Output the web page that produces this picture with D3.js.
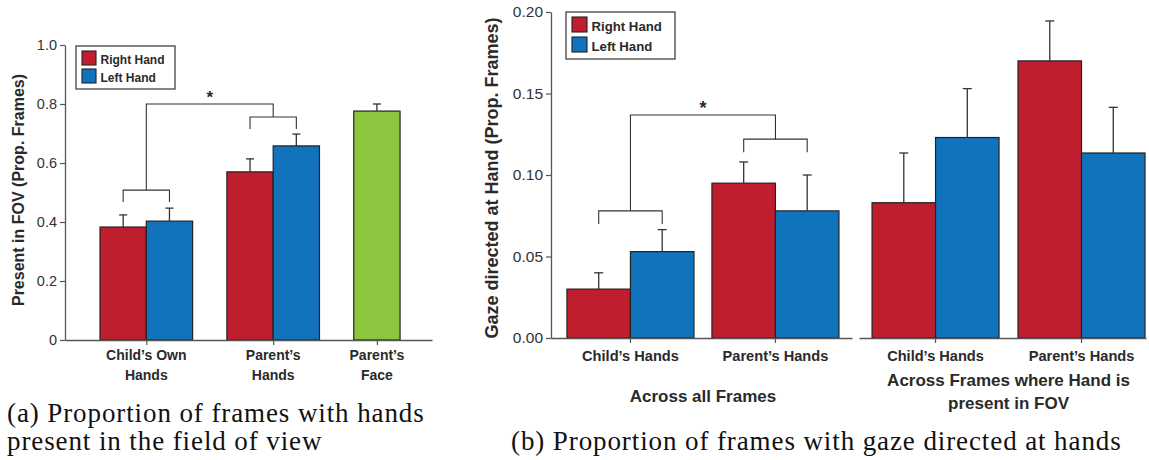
<!DOCTYPE html>
<html>
<head>
<meta charset="utf-8">
<script src="https://cdn.jsdelivr.net/npm/d3@7"></script>
<style>
  body { margin: 0; background: #fff; }
  svg { display: block; }
  text { font-family: "Liberation Sans", Arial, Helvetica, sans-serif; }
</style>
</head>
<body>
<svg id="fig" width="1149" height="460"></svg>
<script>
// ---------------- Data ----------------
const handSeries = ["Right Hand", "Left Hand"];
const seriesColors = ["#be1e2d", "#1173bb"];
const faceColor = "#8cc63f";

// (a) proportion of frames with hands / face present in the field of view
const fovCategories = [["Child’s Own", "Hands"], ["Parent’s", "Hands"], ["Parent’s", "Face"]];
const fovRight   = [0.383, 0.570];
const fovRightSE = [0.041, 0.044];
const fovLeft    = [0.403, 0.658];
const fovLeftSE  = [0.044, 0.040];
const fovFace    = [0.776];
const fovFaceSE  = [0.024];
const fovTicks      = [0, 0.2, 0.4, 0.6, 0.8, 1.0];
const fovTickLabels = ["0", "0.2", "0.4", "0.6", "0.8", "1.0"];
// significance brackets: [bracket level, leg end] for each hand pair, then the joining bracket
const fovPairBrackets = [[0.508, 0.468], [0.756, 0.715]];
const fovTopBracket = 0.80;

// (b) proportion of frames with gaze directed at hands
const gazeCategories = ["Child’s Hands", "Parent’s Hands"];
const gazePanelTitles = [["Across all Frames"], ["Across Frames where Hand is", "present in FOV"]];
const gazeAllRight     = [0.030, 0.095];
const gazeAllRightSE   = [0.010, 0.013];
const gazeAllLeft      = [0.053, 0.078];
const gazeAllLeftSE    = [0.0135, 0.022];
const gazeInFovRight   = [0.083, 0.170];
const gazeInFovRightSE = [0.0305, 0.0245];
const gazeInFovLeft    = [0.123, 0.1135];
const gazeInFovLeftSE  = [0.030, 0.028];
const gazeTicks      = [0, 0.05, 0.10, 0.15, 0.20];
const gazeTickLabels = ["0.00", "0.05", "0.10", "0.15", "0.20"];
const gazePairBrackets = [[0.078, 0.070], [0.122, 0.114]];
const gazeTopBracket = 0.1368;

const captionA = ["(a) Proportion of frames with hands", "present in the field of view"];
const captionB = "(b) Proportion of frames with gaze directed at hands";

// ---------------- Drawing helpers ----------------
const svg = d3.select("#fig");
const INK = "#2a2a2a", AXIS = "#555", BAR_STROKE = "#232323";

function styleAxis(g, fontSize) {
  g.select(".domain").attr("stroke", AXIS).attr("stroke-width", 1.3);
  g.selectAll(".tick line").attr("stroke", AXIS).attr("stroke-width", 1.2);
  g.selectAll(".tick text").attr("fill", "#333").attr("font-size", fontSize)
    .style("font-family", "'Liberation Sans', Arial, sans-serif");
}

function drawBars(g, bars, y, capW) {
  g.selectAll("rect.bar").data(bars).join("rect")
    .attr("class", "bar")
    .attr("x", d => d.x0).attr("width", d => d.x1 - d.x0)
    .attr("y", d => y(d.value)).attr("height", d => y(0) - y(d.value))
    .attr("fill", d => d.color).attr("stroke", BAR_STROKE).attr("stroke-width", 1.2);
  const eb = g.selectAll("g.err").data(bars).join("g").attr("class", "err")
    .attr("stroke", "#333").attr("stroke-width", 1.3);
  eb.append("line")
    .attr("x1", d => (d.x0 + d.x1) / 2).attr("x2", d => (d.x0 + d.x1) / 2)
    .attr("y1", d => y(d.value)).attr("y2", d => y(d.value + d.se));
  eb.append("line")
    .attr("x1", d => (d.x0 + d.x1) / 2 - capW / 2).attr("x2", d => (d.x0 + d.x1) / 2 + capW / 2)
    .attr("y1", d => y(d.value + d.se)).attr("y2", d => y(d.value + d.se));
}

// bracket from xa to xb at level, legs dropping to legEnd
function bracket(g, xa, xb, yTop, yLegA, yLegB) {
  g.append("path")
    .attr("d", `M${xa},${yLegA}V${yTop}H${xb}V${yLegB}`)
    .attr("fill", "none").attr("stroke", "#333").attr("stroke-width", 1.1);
}

function legend(g, x, y, w, h, sw, gapY, fontSize) {
  g.append("rect").attr("x", x).attr("y", y).attr("width", w).attr("height", h)
    .attr("fill", "#fff").attr("stroke", "#444").attr("stroke-width", 1.3);
  handSeries.forEach((s, i) => {
    const sy = y + 5 + i * gapY;
    g.append("rect").attr("x", x + 6).attr("y", sy).attr("width", sw).attr("height", sw)
      .attr("fill", seriesColors[i]).attr("stroke", "#222").attr("stroke-width", 1.1);
    g.append("text").attr("x", x + 6 + sw + 4.5).attr("y", sy + sw - 1.5)
      .attr("font-size", fontSize).attr("font-weight", "bold").attr("fill", INK).text(s);
  });
}

// ---------------- (a) Present in FOV ----------------
{
  const g = svg.append("g");
  const y = d3.scaleLinear().domain([0, 1]).range([340, 45]);
  // bars are laid out in unit-wide slots; groups separated by a gap
  const slotGap = 0.74;
  const groupSizes = [2, 2, 1];
  const groupStart = [];
  let s = 0;
  groupSizes.forEach(n => { groupStart.push(s); s += n + slotGap; });
  const x = d3.scaleLinear().domain([-0.756, s - slotGap + 0.69]).range([65, 432]);

  const bars = [];
  for (let i = 0; i < 2; i++) {
    bars.push({ x0: x(groupStart[i]), x1: x(groupStart[i] + 1), value: fovRight[i], se: fovRightSE[i], color: seriesColors[0] });
    bars.push({ x0: x(groupStart[i] + 1), x1: x(groupStart[i] + 2), value: fovLeft[i], se: fovLeftSE[i], color: seriesColors[1] });
  }
  bars.push({ x0: x(groupStart[2]), x1: x(groupStart[2] + 1), value: fovFace[0], se: fovFaceSE[0], color: faceColor });
  const centers = groupStart.map((st, i) => x(st + groupSizes[i] / 2));

  drawBars(g, bars, y, 8);

  const yAxis = g.append("g").attr("transform", "translate(65,0)")
    .call(d3.axisLeft(y).tickValues(fovTicks).tickFormat((d, i) => fovTickLabels[i])
      .tickSize(5).tickSizeOuter(0).tickPadding(3));
  styleAxis(yAxis, 14.5);

  const xAxis = g.append("g").attr("transform", "translate(0,340)")
    .call(d3.axisBottom(x).tickValues(groupStart.map((st, i) => st + groupSizes[i] / 2))
      .tickFormat("").tickSize(5).tickSizeOuter(0));
  styleAxis(xAxis, 14);

  fovCategories.forEach((lines, i) => {
    lines.forEach((t, j) => {
      g.append("text").attr("x", centers[i]).attr("y", 360 + j * 19.5)
        .attr("text-anchor", "middle").attr("font-size", 14).attr("font-weight", "bold")
        .attr("fill", INK).text(t);
    });
  });

  // significance brackets
  fovPairBrackets.forEach(([lvl, leg], i) => {
    const a = (bars[2 * i].x0 + bars[2 * i].x1) / 2, b = (bars[2 * i + 1].x0 + bars[2 * i + 1].x1) / 2;
    bracket(g, a, b, y(lvl), y(leg), y(leg));
  });
  bracket(g, centers[0], centers[1], y(fovTopBracket), y(fovPairBrackets[0][0]), y(fovPairBrackets[1][0]));
  g.append("text").attr("x", (centers[0] + centers[1]) / 2).attr("y", y(fovTopBracket) - 1)
    .attr("text-anchor", "middle").attr("font-size", 17).attr("font-weight", "bold").attr("fill", INK).text("*");

  legend(g, 76, 46, 99, 43, 14, 18, 12);

  g.append("text").attr("transform", "translate(24,190) rotate(-90)")
    .attr("text-anchor", "middle").attr("font-size", 16).attr("font-weight", "bold")
    .attr("fill", INK).text("Present in FOV (Prop. Frames)");
}

// ---------------- (b) Gaze directed at hands ----------------
{
  const g = svg.append("g");
  const y = d3.scaleLinear().domain([0, 0.2]).range([338, 12]);
  const panels = [
    { range: [551, 852], pi: 0.124, po: 0.1, align: 0.55,
      right: gazeAllRight, rightSE: gazeAllRightSE, left: gazeAllLeft, leftSE: gazeAllLeftSE },
    { range: [859, 1146], pi: 0.13, po: 0.048, align: 0.93,
      right: gazeInFovRight, rightSE: gazeInFovRightSE, left: gazeInFovLeft, leftSE: gazeInFovLeftSE }
  ];

  panels.forEach((p, pi) => {
    const x0 = d3.scaleBand().domain(gazeCategories).range(p.range)
      .paddingInner(p.pi).paddingOuter(p.po).align(p.align);
    const x1 = d3.scaleBand().domain(handSeries).range([0, x0.bandwidth()]);
    const bars = [];
    gazeCategories.forEach((c, i) => {
      bars.push({ x0: x0(c) + x1(handSeries[0]), x1: x0(c) + x1(handSeries[0]) + x1.bandwidth(),
        value: p.right[i], se: p.rightSE[i], color: seriesColors[0] });
      bars.push({ x0: x0(c) + x1(handSeries[1]), x1: x0(c) + x1(handSeries[1]) + x1.bandwidth(),
        value: p.left[i], se: p.leftSE[i], color: seriesColors[1] });
    });
    const pg = g.append("g");
    drawBars(pg, bars, y, 9);

    const xAxis = pg.append("g").attr("transform", "translate(0,338)")
      .call(d3.axisBottom(x0).tickFormat("").tickSize(5).tickSizeOuter(0));
    styleAxis(xAxis, 14);

    gazeCategories.forEach(c => {
      pg.append("text").attr("x", x0(c) + x0.bandwidth() / 2).attr("y", 361)
        .attr("text-anchor", "middle").attr("font-size", 14.6).attr("font-weight", "bold")
        .attr("fill", INK).text(c);
    });

    const mid = (x0(gazeCategories[0]) + x0(gazeCategories[1]) + x0.bandwidth()) / 2;
    const lines = gazePanelTitles[pi];
    const ys = lines.length === 1 ? [402] : [386, 409];
    lines.forEach((t, j) => {
      pg.append("text").attr("x", mid).attr("y", ys[j]).attr("text-anchor", "middle")
        .attr("font-size", 17).attr("font-weight", "bold").attr("fill", INK).text(t);
    });

    if (pi === 0) {
      const centers = gazeCategories.map(c => x0(c) + x0.bandwidth() / 2);
      gazePairBrackets.forEach(([lvl, leg], i) => {
        const a = (bars[2 * i].x0 + bars[2 * i].x1) / 2, b = (bars[2 * i + 1].x0 + bars[2 * i + 1].x1) / 2;
        bracket(pg, a, b, y(lvl), y(leg), y(leg));
      });
      bracket(pg, centers[0], centers[1], y(gazeTopBracket), y(gazePairBrackets[0][0]), y(gazePairBrackets[1][0]));
      pg.append("text").attr("x", (centers[0] + centers[1]) / 2).attr("y", y(gazeTopBracket) - 1)
        .attr("text-anchor", "middle").attr("font-size", 18).attr("font-weight", "bold").attr("fill", INK).text("*");
    }
  });

  const yAxis = g.append("g").attr("transform", "translate(551,0)")
    .call(d3.axisLeft(y).tickValues(gazeTicks).tickFormat((d, i) => gazeTickLabels[i])
      .tickSize(5).tickSizeOuter(0).tickPadding(3));
  styleAxis(yAxis, 15.5);

  legend(g, 566, 12, 109, 47, 15, 20, 13.2);

  g.append("text").attr("transform", "translate(498,178) rotate(-90)")
    .attr("text-anchor", "middle").attr("font-size", 18).attr("font-weight", "bold")
    .attr("fill", INK).text("Gaze directed at Hand (Prop. Frames)");
}

// ---------------- Captions ----------------
const capStyle = sel => sel.style("font-family", "'Liberation Serif', 'Times New Roman', serif")
  .attr("font-size", 27).attr("fill", "#111").attr("letter-spacing", 0.9);
captionA.forEach((t, j) => {
  svg.append("text").attr("x", 7).attr("y", 422 + j * 28).call(capStyle).text(t);
});
svg.append("text").attr("x", 511).attr("y", 450).call(capStyle).text(captionB);
</script>
</body>
</html>
